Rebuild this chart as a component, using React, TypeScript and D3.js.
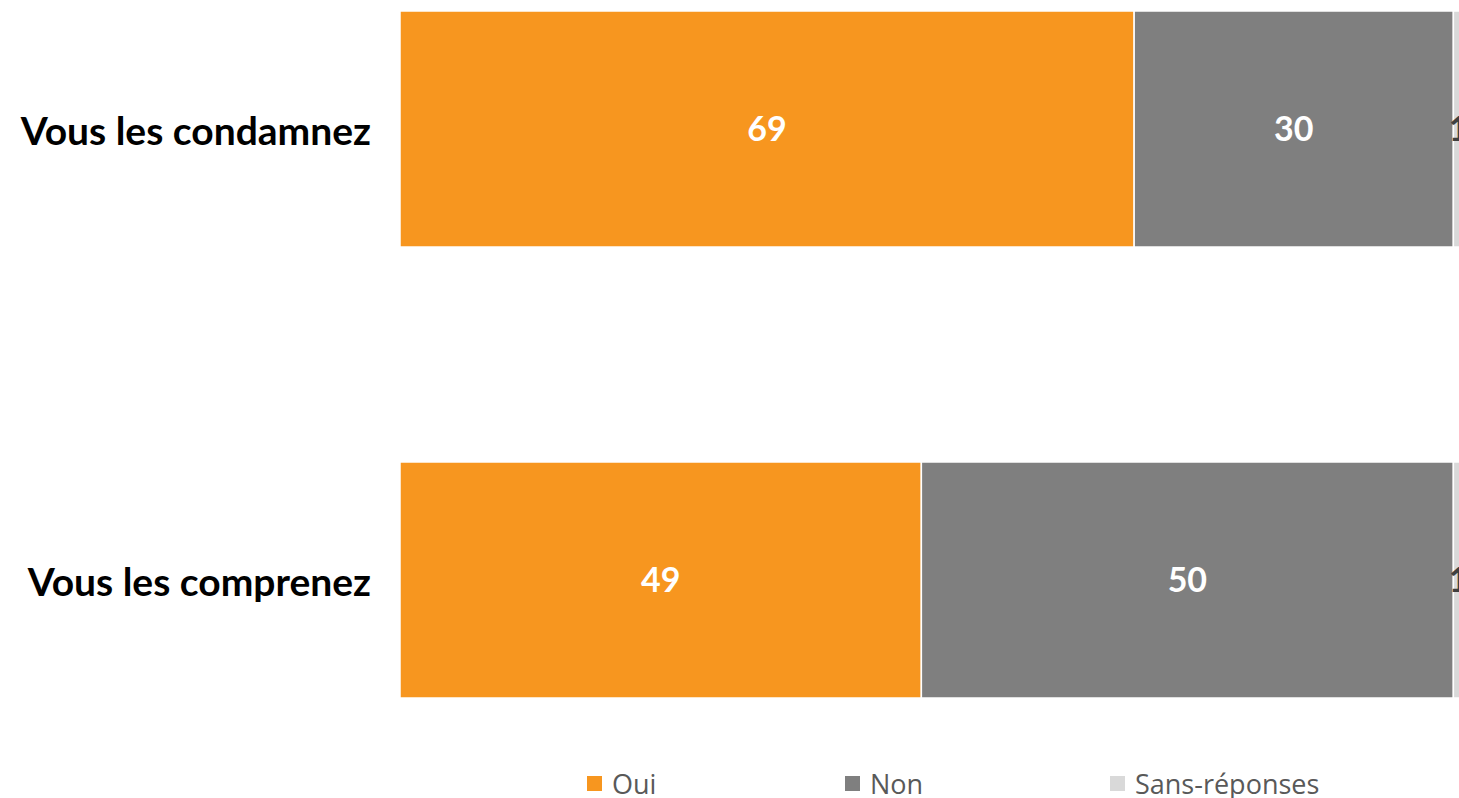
import React from "react";
import * as d3 from "d3";

const categories = ["Vous les condamnez", "Vous les comprenez"];
const seriesNames = ["Oui", "Non", "Sans-réponses"];
const oui = [69, 49];
const non = [30, 50];
const sansReponses = [1, 1];
const colors = ["#F7961F", "#7F7F7F", "#D9D9D9"];
const labelColors = ["#FFFFFF", "#FFFFFF", "#404040"];

const W = 1459;
const H = 798;

export default function App() {
  const x = d3.scaleLinear().domain([0, 100]).range([400, 1464]);
  const y = d3.scaleBand().domain(categories).range([11, 698]).paddingInner(0.4767).paddingOuter(0);
  const bw = y.bandwidth();
  const rows = categories.map((c, i) => ({ cat: c, Oui: oui[i], Non: non[i], "Sans-réponses": sansReponses[i] }));
  const stacked = d3.stack<any>().keys(seriesNames)(rows);
  const legendX = [587, 845, 1110];
  return (
    <svg width={W} height={H} style={{ position: "absolute", left: 0, top: 0, background: "#fff" }}>
      {stacked.map((s, si) => (
        <g key={s.key}>
          {s.map((d, i) => {
            const x0 = x(d[0]);
            const x1 = x(d[1]);
            const yb = y(categories[i]) as number;
            return (
              <g key={i}>
                <rect x={x0} y={yb} width={x1 - x0} height={bw} fill={colors[si]} stroke="#fff" strokeWidth={1.5} />
                <text
                  x={(x0 + x1) / 2}
                  y={yb + bw / 2}
                  dy="0.36em"
                  textAnchor="middle"
                  fontFamily="Lato, 'Open Sans', sans-serif"
                  fontWeight="bold"
                  fontSize={34}
                  fill={labelColors[si]}
                >
                  {d[1] - d[0]}
                </text>
              </g>
            );
          })}
        </g>
      ))}
      {categories.map((c, i) => (
        <text
          key={c}
          x={371}
          y={(y(c) as number) + bw / 2 + 2}
          dy="0.36em"
          textAnchor="end"
          fontFamily="Lato, 'Open Sans', sans-serif"
          fontWeight="bold"
          fontSize={39}
          fill="#000"
        >
          {c}
        </text>
      ))}
      {seriesNames.map((n, i) => (
        <g key={n}>
          <rect x={legendX[i]} y={776} width={15} height={15} fill={colors[i]} />
          <text x={legendX[i] + 25} y={794} fontFamily="'Open Sans', sans-serif" fontSize={27} fill="#595959">
            {n}
          </text>
        </g>
      ))}
    </svg>
  );
}
